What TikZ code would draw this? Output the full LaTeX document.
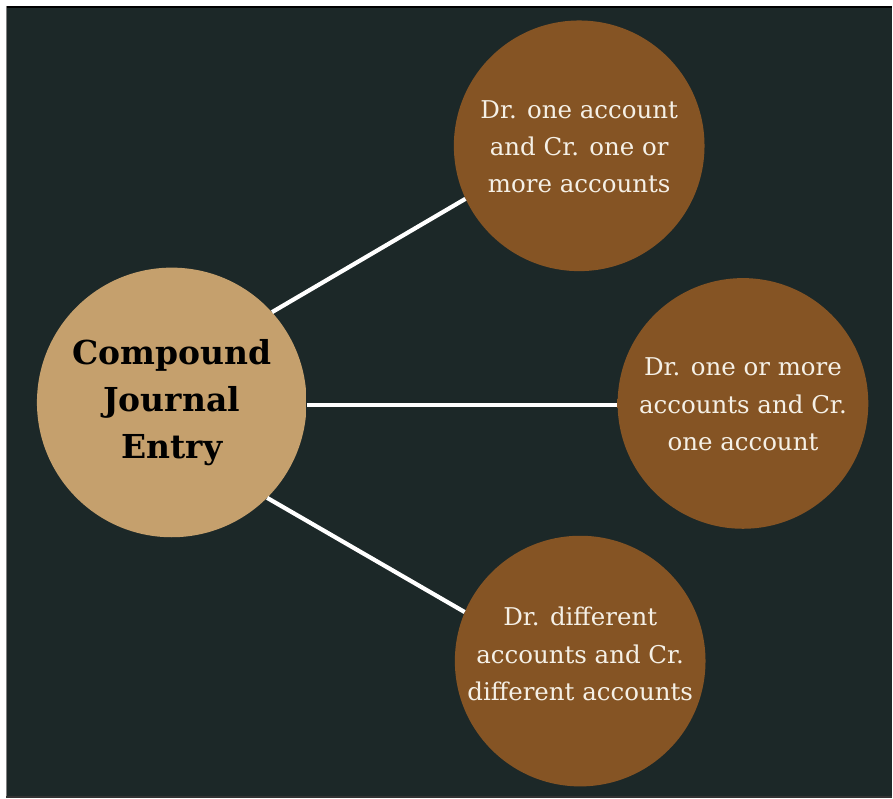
\documentclass[tikz,border=0pt]{standalone}
\usepackage{fontspec}
\setmainfont{DejaVu Serif}
\definecolor{board}{RGB}{28,40,40}
\definecolor{leafbrown}{RGB}{133,84,36}
\definecolor{leafrim}{RGB}{180,136,84}
\definecolor{hubtan}{RGB}{197,160,109}
\definecolor{hubrim}{RGB}{218,188,142}
\definecolor{leaftext}{RGB}{245,240,230}
\pgfdeclareradialshading{leafglow}{\pgfpoint{0bp}{0bp}}{%
  color(0bp)=(leafbrown); color(46.5bp)=(leafbrown); color(49bp)=(leafrim); color(50bp)=(leafrim)}
\pgfdeclareradialshading{hubglow}{\pgfpoint{0bp}{0bp}}{%
  color(0bp)=(hubtan); color(47bp)=(hubtan); color(49.2bp)=(hubrim); color(50bp)=(hubrim)}
\begin{document}
\begin{tikzpicture}[x=1pt,y=-1pt,
  hub/.style={circle, minimum size=270pt, inner sep=0pt, shading=hubglow,
    align=center, text=black, font=\fontsize{33}{47}\selectfont\bfseries},
  leaf/.style={circle, minimum size=251pt, inner sep=0pt, shading=leafglow},
  leaflabel/.style={align=center, inner sep=0pt, text=leaftext,
    font=\fontsize{24.5}{37.5}\selectfont},
  spoke/.style={draw=white, line width=4.2pt}]
  % chalkboard frame
  \fill[white] (0,0) rectangle (893,799);
  \fill[board] (6.5,6) rectangle (893,799);
  \draw[black, line width=2.5pt] (6.5,7.2) -- (893,7.2);
  \draw[gray, line width=1pt] (6.5,6) -- (6.5,799);
  \draw[black!80, line width=2pt] (6.5,798) -- (893,798);
  \useasboundingbox (0,0) rectangle (893,799);
  % circle centres
  \coordinate (hc) at (172,403);
  \coordinate (tc) at (580,146);
  \coordinate (mc) at (744,404);
  \coordinate (bc) at (581,662);
  % hub
  \node[hub] (c) at (hc) {Compound\\Journal\\Entry};
  % outer circles and their texts
  \node[leaf] (t) at (tc) {};
  \node[leaflabel] (tt) at ([yshift=-1pt]tc) {Dr. one account\\and Cr. one or\\more accounts};
  \node[leaf] (m) at (mc) {};
  \node[leaflabel] (mt) at ([yshift=-1pt]mc) {Dr. one or more\\accounts and Cr.\\one account};
  \node[leaf] (b) at (bc) {};
  \node[leaflabel] (bt) at ([yshift=7pt]bc) {Dr. different\\accounts and Cr.\\different accounts};
  % connectors
  \draw[spoke] (c.42) -- (t.205.5);
  \draw[spoke] (c.-1.7) -- (c.-1.7 -| m.west);
  \draw[spoke] (c.-45.6) -- (b.157.4);
\end{tikzpicture}
\end{document}
